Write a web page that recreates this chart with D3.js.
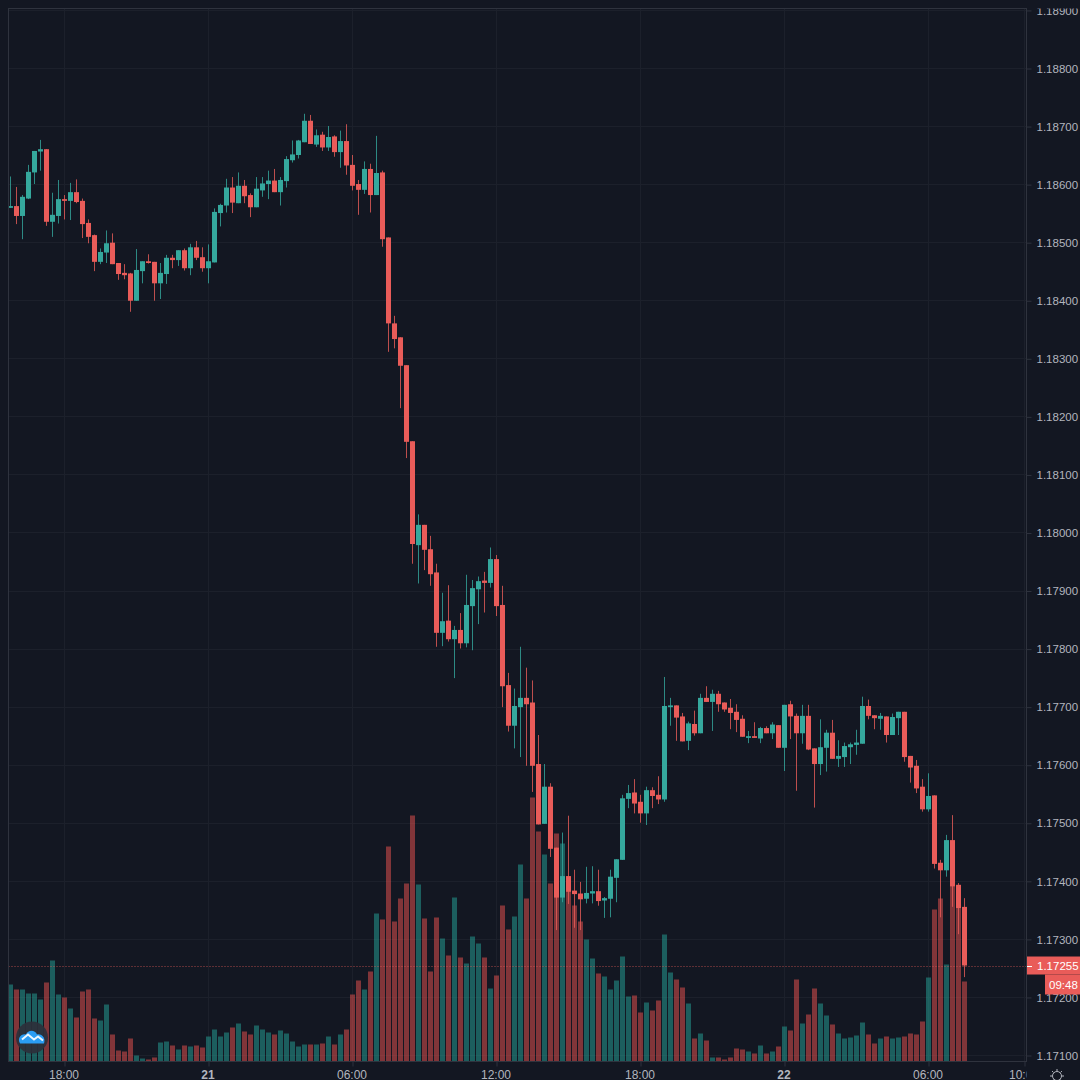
<!DOCTYPE html>
<html>
<head>
<meta charset="utf-8">
<script src="https://cdnjs.cloudflare.com/ajax/libs/d3/7.8.5/d3.min.js"></script>
<style>
  html, body {margin: 0; background: #131722;}
  svg {display: block;}
  text {font-family: 'Liberation Sans', sans-serif; font-size: 11.5px; fill: #b2b5be;}
</style>
</head>
<body>
<svg width="1080" height="1080"></svg>
<script>
var opens = [
  1.18560,1.18563,1.18546,1.18576,1.18621,1.18657,1.18661,1.18536,1.18546,1.18575,
  1.18572,1.18587,1.18572,1.18534,1.18513,1.18467,1.18483,1.18500,1.18465,1.18448,
  1.18447,1.18400,1.18451,1.18468,1.18467,1.18430,1.18446,1.18474,1.18470,1.18487,
  1.18456,1.18492,1.18475,1.18456,1.18466,1.18551,1.18564,1.18595,1.18568,1.18598,
  1.18582,1.18561,1.18590,1.18601,1.18607,1.18587,1.18606,1.18642,1.18651,1.18673,
  1.18710,1.18669,1.18686,1.18664,1.18683,1.18656,1.18675,1.18634,1.18601,1.18591,
  1.18627,1.18582,1.18621,1.18509,1.18361,1.18337,1.18289,1.18158,1.17979,1.18014,
  1.17972,1.17932,1.17828,1.17849,1.17817,1.17833,1.17810,1.17874,1.17903,1.17918,
  1.17914,1.17955,1.17876,1.17738,1.17668,1.17700,1.17716,1.17708,1.17602,1.17499,
  1.17563,1.17458,1.17372,1.17409,1.17384,1.17379,1.17370,1.17379,1.17383,1.17367,
  1.17370,1.17406,1.17437,1.17542,1.17553,1.17537,1.17517,1.17557,1.17549,1.17541,
  1.17700,1.17703,1.17684,1.17642,1.17671,1.17655,1.17716,1.17709,1.17723,1.17708,
  1.17699,1.17692,1.17680,1.17647,1.17650,1.17646,1.17664,1.17655,1.17669,1.17630,
  1.17705,1.17685,1.17655,1.17685,1.17629,1.17602,1.17630,1.17656,1.17611,1.17614,
  1.17631,1.17635,1.17637,1.17702,1.17686,1.17680,1.17684,1.17652,1.17681,1.17692,
  1.17616,1.17599,1.17563,1.17524,1.17548,1.17432,1.17419,1.17471,1.17394,1.17356
]
var highs = [
  1.18614,1.18596,1.18582,1.18634,1.18658,1.18677,1.18661,1.18586,1.18608,1.18582,
  1.18603,1.18609,1.18576,1.18540,1.18514,1.18490,1.18521,1.18516,1.18465,1.18463,
  1.18448,1.18489,1.18468,1.18480,1.18467,1.18465,1.18479,1.18479,1.18487,1.18490,
  1.18498,1.18503,1.18492,1.18497,1.18559,1.18567,1.18610,1.18613,1.18621,1.18608,
  1.18585,1.18613,1.18613,1.18624,1.18627,1.18613,1.18649,1.18676,1.18677,1.18722,
  1.18720,1.18695,1.18691,1.18701,1.18685,1.18693,1.18704,1.18651,1.18608,1.18640,
  1.18636,1.18684,1.18624,1.18509,1.18374,1.18337,1.18289,1.18158,1.18032,1.18014,
  1.17995,1.17947,1.17897,1.17910,1.17840,1.17862,1.17928,1.17919,1.17925,1.17933,
  1.17975,1.17962,1.17909,1.17759,1.17732,1.17804,1.17768,1.17746,1.17652,1.17602,
  1.17569,1.17458,1.17484,1.17513,1.17420,1.17399,1.17425,1.17426,1.17420,1.17373,
  1.17420,1.17438,1.17549,1.17566,1.17576,1.17549,1.17563,1.17562,1.17581,1.17752,
  1.17716,1.17703,1.17690,1.17675,1.17694,1.17723,1.17736,1.17730,1.17728,1.17708,
  1.17714,1.17705,1.17686,1.17659,1.17674,1.17666,1.17667,1.17674,1.17669,1.17704,
  1.17711,1.17689,1.17704,1.17704,1.17629,1.17679,1.17661,1.17678,1.17643,1.17639,
  1.17639,1.17661,1.17718,1.17713,1.17686,1.17690,1.17684,1.17689,1.17692,1.17692,
  1.17616,1.17609,1.17576,1.17586,1.17548,1.17437,1.17480,1.17514,1.17397,1.17371
]
var lows = [
  1.18560,1.18532,1.18506,1.18575,1.18601,1.18624,1.18529,1.18510,1.18533,1.18540,
  1.18539,1.18568,1.18508,1.18499,1.18451,1.18463,1.18465,1.18463,1.18436,1.18437,
  1.18381,1.18400,1.18430,1.18464,1.18400,1.18403,1.18429,1.18456,1.18460,1.18452,
  1.18444,1.18470,1.18450,1.18430,1.18466,1.18528,1.18552,1.18551,1.18568,1.18568,
  1.18544,1.18561,1.18579,1.18575,1.18587,1.18564,1.18595,1.18638,1.18645,1.18673,
  1.18670,1.18665,1.18658,1.18658,1.18648,1.18629,1.18617,1.18590,1.18548,1.18584,
  1.18552,1.18582,1.18493,1.18312,1.18318,1.18215,1.18129,1.17947,1.17913,1.17936,
  1.17909,1.17804,1.17805,1.17813,1.17750,1.17801,1.17803,1.17798,1.17843,1.17863,
  1.17906,1.17857,1.17700,1.17658,1.17629,1.17614,1.17599,1.17554,1.17498,1.17499,
  1.17442,1.17316,1.17364,1.17361,1.17320,1.17316,1.17362,1.17362,1.17358,1.17337,
  1.17338,1.17364,1.17437,1.17526,1.17517,1.17501,1.17497,1.17526,1.17533,1.17537,
  1.17668,1.17642,1.17641,1.17626,1.17651,1.17655,1.17709,1.17659,1.17692,1.17692,
  1.17662,1.17657,1.17649,1.17638,1.17647,1.17638,1.17655,1.17645,1.17630,1.17590,
  1.17645,1.17556,1.17637,1.17626,1.17527,1.17583,1.17589,1.17611,1.17597,1.17597,
  1.17602,1.17618,1.17637,1.17679,1.17662,1.17661,1.17639,1.17652,1.17652,1.17606,
  1.17570,1.17552,1.17520,1.17520,1.17422,1.17338,1.17408,1.17356,1.17309,1.17235
]
var closes = [
  1.18563,1.18546,1.18579,1.18622,1.18658,1.18661,1.18536,1.18548,1.18575,1.18572,
  1.18587,1.18570,1.18532,1.18510,1.18467,1.18484,1.18499,1.18463,1.18446,1.18444,
  1.18400,1.18453,1.18468,1.18465,1.18430,1.18448,1.18474,1.18470,1.18487,1.18456,
  1.18492,1.18474,1.18456,1.18468,1.18553,1.18565,1.18595,1.18569,1.18598,1.18580,
  1.18561,1.18593,1.18602,1.18607,1.18587,1.18608,1.18644,1.18652,1.18676,1.18710,
  1.18670,1.18685,1.18664,1.18682,1.18656,1.18675,1.18633,1.18598,1.18591,1.18627,
  1.18582,1.18620,1.18506,1.18361,1.18334,1.18288,1.18157,1.17981,1.18014,1.17971,
  1.17929,1.17828,1.17848,1.17817,1.17833,1.17810,1.17876,1.17905,1.17917,1.17914,
  1.17955,1.17874,1.17736,1.17668,1.17702,1.17716,1.17705,1.17599,1.17498,1.17563,
  1.17456,1.17372,1.17409,1.17382,1.17378,1.17369,1.17380,1.17383,1.17366,1.17371,
  1.17408,1.17438,1.17543,1.17552,1.17534,1.17517,1.17557,1.17547,1.17541,1.17702,
  1.17703,1.17682,1.17641,1.17672,1.17655,1.17716,1.17709,1.17723,1.17705,1.17696,
  1.17690,1.17678,1.17649,1.17650,1.17647,1.17664,1.17655,1.17670,1.17630,1.17704,
  1.17684,1.17655,1.17685,1.17627,1.17602,1.17631,1.17656,1.17611,1.17616,1.17633,
  1.17636,1.17639,1.17702,1.17685,1.17681,1.17685,1.17652,1.17683,1.17692,1.17614,
  1.17596,1.17560,1.17524,1.17547,1.17430,1.17419,1.17471,1.17391,1.17354,1.17255
]
var volumes = [
  77,72,72,68,68,62,79,101,67,64,
  53,44,70,72,43,41,57,27,11,10,
  23,6,3,2,4,19,20,16,12,16,
  15,16,14,25,32,25,29,34,38,30,
  27,36,32,29,27,31,28,20,15,17,
  17,17,18,25,17,27,32,67,81,72,
  90,148,142,215,140,163,178,246,177,143,
  90,144,123,106,164,104,98,125,118,104,
  73,86,156,132,145,197,163,264,230,207,
  178,228,218,185,156,140,122,103,88,85,
  72,81,105,65,66,49,59,51,61,127,
  89,82,74,58,23,28,21,4,4,2,
  4,13,12,10,8,16,8,10,15,35,
  31,82,38,47,73,58,46,37,28,23,
  24,26,39,27,18,23,25,23,24,25,
  28,27,40,84,152,163,97,175,155,80
]
var priceTicks = [1.171,1.172,1.173,1.174,1.175,1.176,1.177,1.178,1.179,1.18,1.181,1.182,1.183,1.184,1.185,1.186,1.187,1.188,1.189]
var timeTicks = [9,33,57,81,105,129,153,169]
var timeLabels = ['18:00','21','06:00','12:00','18:00','22','06:00','10:00']
var dayLabels = ['21','22']
var countdown = '09:48'

var up = '#35a89d', down = '#e95c59', gridColor = '#1c202b', axisColor = '#2f333e'
var left = 8.5, right = 1026.5, top_ = 8.5, bottom = 1061.5

var svg = d3.select('svg')

var x = d3.scaleLinear().domain([0, 159]).range([10.5, 964.5])
var y = d3.scaleLinear().domain([1.171, 1.188]).range([1055.5, 68.5])
var yVol = d3.scaleLinear().domain([0, 300]).range([bottom, bottom - 300])

var defs = svg.append('defs')
defs.append('clipPath').attr('id', 'plot').append('rect')
  .attr('x', left).attr('y', top_).attr('width', right - left).attr('height', bottom - top_)
defs.append('clipPath').attr('id', 'priceClip').append('rect')
  .attr('x', right).attr('y', top_).attr('width', 60).attr('height', bottom - top_)
defs.append('clipPath').attr('id', 'timeClip').append('rect')
  .attr('x', left).attr('y', bottom).attr('width', right - left).attr('height', 30)

var plot = svg.append('g').attr('clip-path', 'url(#plot)')

// grid
plot.append('g').selectAll('line').data(priceTicks).join('line')
  .attr('x1', left).attr('x2', right)
  .attr('y1', d => Math.round(y(d) - .5) + .5).attr('y2', d => Math.round(y(d) - .5) + .5)
  .attr('stroke', gridColor)
plot.append('g').selectAll('line').data(timeTicks).join('line')
  .attr('x1', d => x(d)).attr('x2', d => x(d))
  .attr('y1', top_).attr('y2', bottom)
  .attr('stroke', gridColor)

var isUp = i => closes[i] >= opens[i]
var idx = d3.range(opens.length)

// volume sits under the candles
plot.append('g').selectAll('rect').data(idx).join('rect')
  .attr('x', i => x(i) - 2.5)
  .attr('width', 5)
  .attr('y', i => yVol(volumes[i]))
  .attr('height', i => yVol(0) - yVol(volumes[i]))
  .attr('fill', i => isUp(i) ? '#26a69a' : '#ef5350')
  .attr('fill-opacity', .5)

plot.append('g').selectAll('line').data(idx).join('line')
  .attr('x1', i => x(i)).attr('x2', i => x(i))
  .attr('y1', i => y(highs[i])).attr('y2', i => y(lows[i]))
  .attr('stroke', i => isUp(i) ? up : down)
  .attr('stroke-opacity', .8)

plot.append('g').selectAll('rect').data(idx).join('rect')
  .attr('x', i => x(i) - 2.5)
  .attr('width', 5)
  .attr('y', i => y(Math.max(opens[i], closes[i])))
  .attr('height', i => Math.max(1, Math.abs(y(opens[i]) - y(closes[i]))))
  .attr('fill', i => isUp(i) ? up : down)

var last = closes[closes.length - 1]

plot.append('line')
  .attr('x1', left).attr('x2', right)
  .attr('y1', Math.round(y(last)) + .5).attr('y2', Math.round(y(last)) + .5)
  .attr('stroke', down).attr('stroke-opacity', .7).attr('stroke-dasharray', '1 2')

// frame
svg.append('rect')
  .attr('x', left).attr('y', top_).attr('width', right - left).attr('height', bottom - top_)
  .attr('fill', 'none').attr('stroke', axisColor)

// axes, the clip goes on an outer group so the axis translate does not move it
var priceAxis = svg.append('g')
  .attr('clip-path', 'url(#priceClip)')
  .append('g')
  .attr('transform', `translate(${right},0)`)
  .call(d3.axisRight(y).tickValues(priceTicks).tickFormat(d3.format('.5f')).tickSize(5).tickPadding(5))
priceAxis.select('.domain').remove()
priceAxis.selectAll('.tick line').attr('stroke', axisColor)
priceAxis.selectAll('.tick text').attr('fill', '#b2b5be').style('font-size', '11.5px').style('font-family', "'Liberation Sans', sans-serif")

var timeAxis = svg.append('g')
  .attr('clip-path', 'url(#timeClip)')
  .append('g')
  .attr('transform', `translate(0,${bottom})`)
  .call(d3.axisBottom(x).tickValues(timeTicks).tickFormat((d, i) => timeLabels[i]).tickSize(5).tickPadding(4))
timeAxis.select('.domain').remove()
timeAxis.selectAll('.tick line').attr('stroke', axisColor)
timeAxis.selectAll('.tick text')
  .attr('fill', '#b2b5be')
  .attr('dx', -1)
  .style('font-size', '12px')
  .style('font-family', "'Liberation Sans', sans-serif")
  .style('font-weight', (d, i) => dayLabels.includes(timeLabels[i]) ? 700 : 400)

// last price tag and countdown
var tag = svg.append('g')
tag.append('rect').attr('x', 1027).attr('y', y(last) - 9).attr('width', 53).attr('height', 18).attr('fill', down)
tag.append('line').attr('x1', 1027).attr('x2', 1032)
  .attr('y1', Math.round(y(last)) + .5).attr('y2', Math.round(y(last)) + .5).attr('stroke', '#fff')
tag.append('text').attr('x', 1037).attr('y', y(last)).attr('dy', '.35em')
  .style('fill', '#fff').text(d3.format('.5f')(last))
tag.append('rect').attr('x', 1045).attr('y', y(last) + 9).attr('width', 35).attr('height', 20).attr('fill', down)
tag.append('text').attr('x', 1049).attr('y', y(last) + 19).attr('dy', '.35em')
  .style('fill', '#fff').text(countdown)

// logo badge
var logo = svg.append('g').attr('transform', 'translate(32,1037.5)')
logo.append('circle').attr('r', 16).attr('fill', '#2c303b').attr('fill-opacity', .92)
logo.append('path')
  .attr('d', 'M-12,6 C-15,1 -11,-4 -6,-3 C-4,-8 3,-8 5,-3 C10,-4 14,1 12,6 Z')
  .attr('fill', '#2a9df4')
logo.append('path')
  .attr('d', 'M-10,2 L-4,-3 L2,2 L6,-1 L11,3')
  .attr('fill', 'none').attr('stroke', '#eaf6ff').attr('stroke-width', 2)

// settings icon
var gear = svg.append('g').attr('transform', 'translate(1057,1076)')
gear.append('circle').attr('r', 4.5).attr('fill', 'none').attr('stroke', '#b2b5be')
gear.selectAll('line').data(d3.range(8)).join('line')
  .attr('x1', d => 5 * Math.cos(d * Math.PI / 4)).attr('y1', d => 5 * Math.sin(d * Math.PI / 4))
  .attr('x2', d => 7 * Math.cos(d * Math.PI / 4)).attr('y2', d => 7 * Math.sin(d * Math.PI / 4))
  .attr('stroke', '#b2b5be')
</script>
</body>
</html>
